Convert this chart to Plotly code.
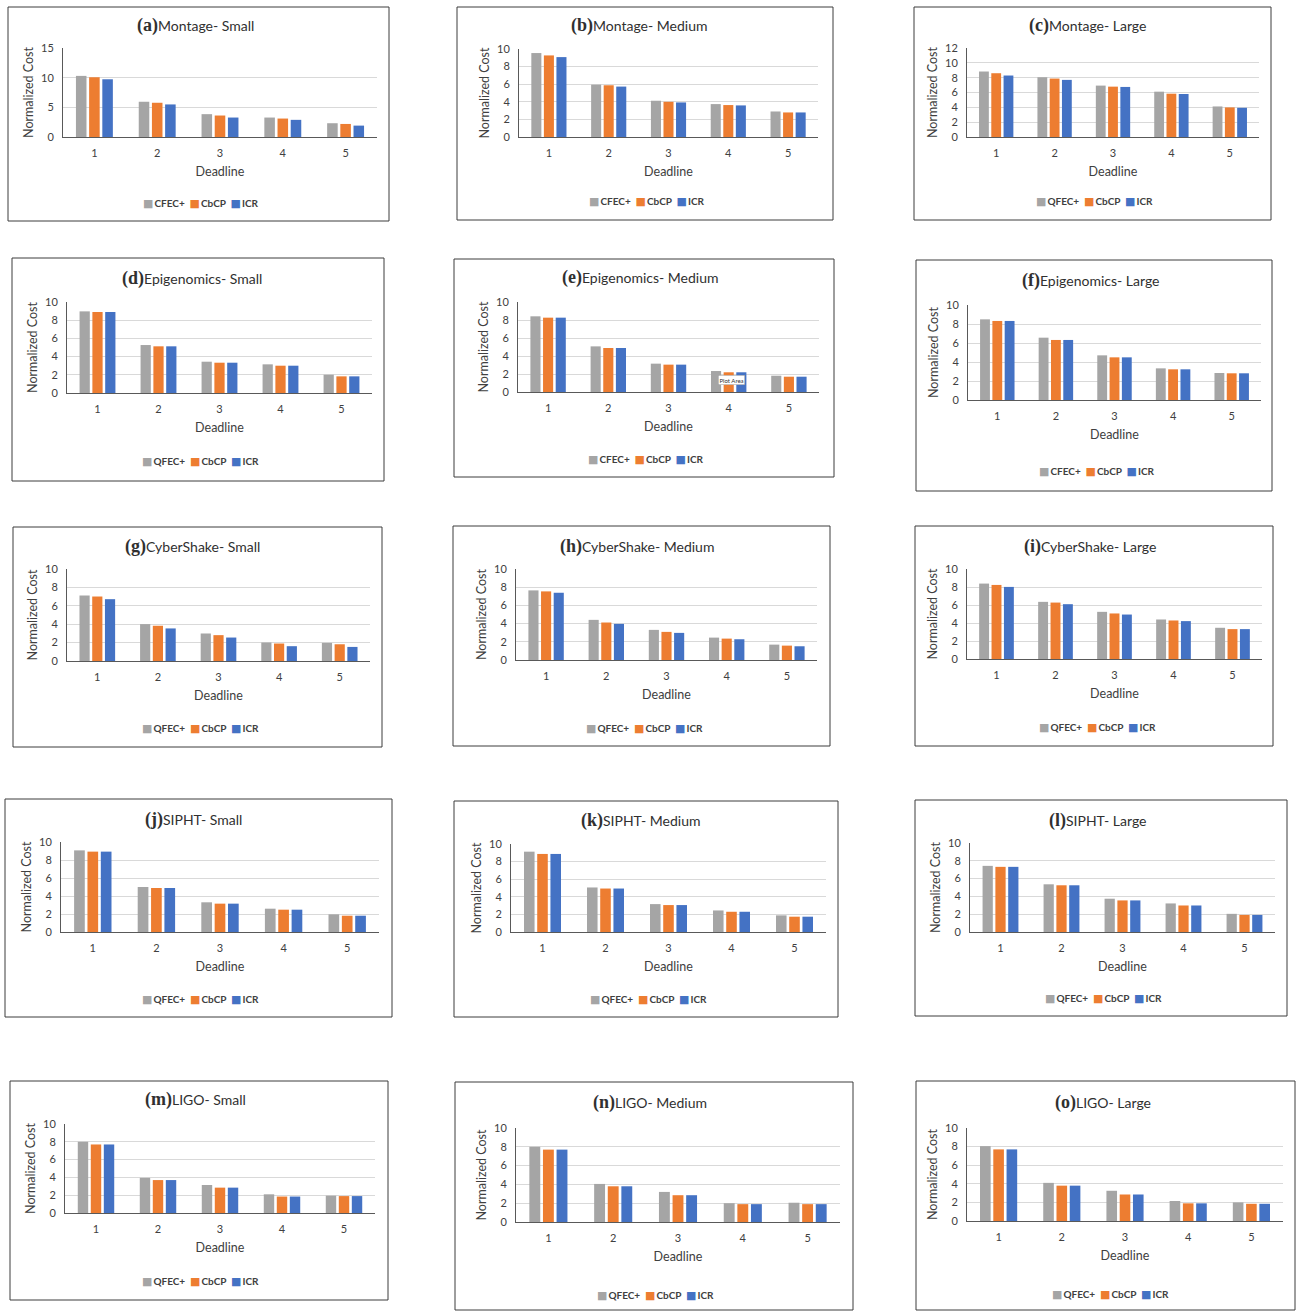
import plotly.graph_objects as go

W, H = 1296, 1311

deadlines = ["1", "2", "3", "4", "5"]
series_colors = ["#a5a5a5", "#ed7d31", "#4472c4"]

panel_letters = ["a", "b", "c", "d", "e", "f", "g", "h", "i", "j", "k", "l", "m", "n", "o"]
panel_titles = ["Montage- Small", "Montage- Medium", "Montage- Large",
                "Epigenomics- Small", "Epigenomics- Medium", "Epigenomics- Large",
                "CyberShake- Small", "CyberShake- Medium", "CyberShake- Large",
                "SIPHT- Small", "SIPHT- Medium", "SIPHT- Large",
                "LIGO- Small", "LIGO- Medium", "LIGO- Large"]
first_series_names = ["CFEC+", "CFEC+", "QFEC+", "QFEC+", "CFEC+", "CFEC+",
                      "QFEC+", "QFEC+", "QFEC+", "QFEC+", "QFEC+", "QFEC+",
                      "QFEC+", "QFEC+", "QFEC+"]
other_series_names = ["CbCP", "ICR"]
y_max = [15, 10, 12, 10, 10, 10, 10, 10, 10, 10, 10, 10, 10, 10, 10]
y_step = [5, 2, 2, 2, 2, 2, 2, 2, 2, 2, 2, 2, 2, 2, 2]

# values per panel: [first series, CbCP, ICR] for deadlines 1..5
montage_small = [[10.3, 5.94, 3.85, 3.28, 2.32], [10.07, 5.77, 3.62, 3.11, 2.2], [9.73, 5.49, 3.28, 2.89, 1.92]]
montage_medium = [[9.54, 5.95, 4.12, 3.74, 2.9], [9.27, 5.88, 4.0, 3.63, 2.79], [9.08, 5.73, 3.93, 3.59, 2.79]]
montage_large = [[8.83, 8.06, 6.93, 6.11, 4.12], [8.6, 7.88, 6.79, 5.84, 3.99], [8.29, 7.7, 6.75, 5.8, 3.94]]
epigenomics_small = [[8.97, 5.27, 3.44, 3.15, 2.01], [8.9, 5.13, 3.33, 3.0, 1.83], [8.9, 5.13, 3.33, 3.0, 1.83]]
epigenomics_medium = [[8.41, 5.07, 3.15, 2.33, 1.81], [8.26, 4.89, 3.04, 2.19, 1.7], [8.26, 4.89, 3.04, 2.19, 1.7]]
epigenomics_large = [[8.49, 6.56, 4.7, 3.33, 2.84], [8.32, 6.32, 4.49, 3.23, 2.81], [8.32, 6.32, 4.49, 3.23, 2.81]]
cybershake_small = [[7.12, 4.01, 2.99, 2.01, 1.97], [7.01, 3.83, 2.81, 1.9, 1.82], [6.72, 3.54, 2.55, 1.61, 1.53]]
cybershake_medium = [[7.65, 4.41, 3.31, 2.46, 1.69], [7.54, 4.12, 3.09, 2.35, 1.58], [7.39, 3.97, 2.98, 2.28, 1.51]]
cybershake_large = [[8.38, 6.35, 5.24, 4.39, 3.47], [8.23, 6.27, 5.06, 4.28, 3.32], [8.01, 6.09, 4.94, 4.21, 3.32]]
sipht_small = [[9.07, 5.0, 3.3, 2.59, 1.96], [8.93, 4.89, 3.15, 2.48, 1.81], [8.93, 4.89, 3.15, 2.48, 1.81]]
sipht_medium = [[9.13, 5.06, 3.17, 2.45, 1.89], [8.87, 4.94, 3.06, 2.3, 1.74], [8.87, 4.94, 3.06, 2.3, 1.74]]
sipht_large = [[7.43, 5.36, 3.74, 3.21, 2.04], [7.32, 5.25, 3.55, 2.98, 1.92], [7.32, 5.25, 3.55, 2.98, 1.92]]
ligo_small = [[8.0, 3.95, 3.15, 2.1, 1.95], [7.7, 3.7, 2.85, 1.85, 1.9], [7.7, 3.7, 2.85, 1.85, 1.9]]
ligo_medium = [[8.0, 4.05, 3.2, 2.0, 2.05], [7.7, 3.8, 2.85, 1.9, 1.9], [7.7, 3.8, 2.85, 1.9, 1.9]]
ligo_large = [[8.05, 4.1, 3.25, 2.15, 2.0], [7.7, 3.8, 2.85, 1.9, 1.85], [7.7, 3.8, 2.85, 1.9, 1.85]]

panel_values = [montage_small, montage_medium, montage_large,
                epigenomics_small, epigenomics_medium, epigenomics_large,
                cybershake_small, cybershake_medium, cybershake_large,
                sipht_small, sipht_medium, sipht_large,
                ligo_small, ligo_medium, ligo_large]

# ---- layout geometry (pixels in the 1296x1311 page) ----
boxes = [(8, 7, 389, 221), (457, 7, 833, 220), (914, 7, 1271, 220),
         (12, 258, 384, 481), (454, 259, 834, 477), (916, 260, 1272, 491),
         (13, 527, 382, 747), (453, 526, 830, 746), (915, 526, 1273, 746),
         (5, 799, 392, 1017), (454, 801, 838, 1017), (915, 800, 1287, 1016),
         (10, 1081, 388, 1300), (455, 1082, 853, 1310), (916, 1081, 1295, 1310)]
plots = [(63, 48, 377, 137), (519, 49, 818, 137), (967, 48, 1259, 137),
         (67, 302, 372, 393), (518, 302, 819, 392), (968, 305, 1261, 400),
         (67, 569, 370, 661), (516, 569, 817, 660), (967, 569, 1262, 659),
         (61, 842, 379, 932), (511, 844, 826, 932), (970, 843, 1275, 932),
         (65, 1124, 375, 1213), (516, 1128, 840, 1222), (967, 1128, 1283, 1221)]
title_pos = [(195, 25), (639, 25), (1087, 25), (192, 278), (640, 277), (1090, 281),
             (192, 546), (637, 546), (1090, 546), (193, 819), (641, 820), (1097, 820),
             (195, 1099), (650, 1102), (1103, 1102)]
legend_pos = [(201, 203), (647, 202), (1094, 202), (200, 462), (646, 459), (1097, 472),
              (200, 728), (644, 728), (1097, 727), (200, 999), (648, 999), (1103, 998),
              (200, 1281), (655, 1295), (1110, 1294)]

FONT = "Lato, 'Open Sans', Arial, sans-serif"
TXT = "#404040"

fig = go.Figure()
layout = dict(width=W, height=H, margin=dict(l=0, r=0, t=0, b=0, autoexpand=False),
              paper_bgcolor="white", plot_bgcolor="white",
              font=dict(family=FONT, color=TXT),
              bargap=0.37, bargroupgap=0.2, barmode="group",
              showlegend=False, shapes=[], annotations=[])

for i in range(15):
    sfx = "" if i == 0 else str(i + 1)
    xref, yref = "x" + sfx, "y" + sfx
    names = [first_series_names[i]] + other_series_names
    for s in range(3):
        fig.add_trace(go.Bar(x=deadlines, y=panel_values[i][s], name=names[s],
                             marker=dict(color=series_colors[s], line=dict(width=0)),
                             xaxis=xref, yaxis=yref))
    px0, pyt, px1, pyb = plots[i]
    layout["xaxis" + sfx] = dict(
        domain=[px0 / W, px1 / W], anchor=yref, type="category", automargin=False,
        showline=True, linecolor="#595959", linewidth=1, ticks="",
        showgrid=False, zeroline=False, fixedrange=True,
        tickfont=dict(size=11, color=TXT), ticklabelstandoff=6,
        title=dict(text="Deadline", font=dict(size=12.5, color=TXT), standoff=9))
    layout["yaxis" + sfx] = dict(
        domain=[1 - pyb / H, 1 - pyt / H], anchor=xref, automargin=False,
        range=[0, y_max[i]], dtick=y_step[i], tick0=0, fixedrange=True,
        showline=True, linecolor="#595959", linewidth=1, ticks="",
        showgrid=True, gridcolor="#d9d9d9", gridwidth=1, zeroline=False,
        tickfont=dict(size=11, color=TXT), ticklabelstandoff=6,
        title=dict(text="Normalized Cost", font=dict(size=12.5, color=TXT), standoff=4))
    # compact legend row (colour square + series name)
    lx, ly = legend_pos[i]
    legend_text = "&nbsp;&nbsp;".join(
        "<span style='color:" + series_colors[s] + ";font-family:\"DejaVu Sans\";font-size:11px'>■</span>"
        + "<span style='font-size:4px'>&nbsp;</span>" + names[s] for s in range(3))
    layout["annotations"].append(dict(
        xref="paper", yref="paper", x=lx / W, y=1 - ly / H, xanchor="center", yanchor="middle",
        showarrow=False, text=legend_text,
        font=dict(size=10, color=TXT, family=FONT, weight="bold")))
    bx0, by0, bx1, by1 = boxes[i]
    layout["shapes"].append(dict(type="rect", xref="paper", yref="paper",
                                 x0=bx0 / W, x1=bx1 / W, y0=1 - by1 / H, y1=1 - by0 / H,
                                 line=dict(color="#3c3c3c", width=1), fillcolor="rgba(0,0,0,0)",
                                 layer="below"))
    tx, ty = title_pos[i]
    layout["annotations"].append(dict(
        xref="paper", yref="paper", x=tx / W, y=1 - ty / H, xanchor="center", yanchor="middle",
        showarrow=False,
        text=("<span style='font-family:\"Liberation Serif\", \"DejaVu Serif\", serif;"
              "font-size:18px;font-weight:bold'>(" + panel_letters[i] + ")</span>"
              + panel_titles[i]),
        font=dict(size=14, color="#303030", family=FONT)))

# tooltip remnant visible in panel (e)
layout["annotations"].append(dict(xref="paper", yref="paper", x=731 / W, y=1 - 380 / H,
                                  xanchor="center", yanchor="middle", showarrow=False,
                                  text="Plot Area", font=dict(size=6, color="#333333", family=FONT),
                                  bgcolor="white", bordercolor="#9a9a9a", borderwidth=0.5, borderpad=1))

fig.update_layout(**layout)
fig.write_html("out.html", config={"displayModeBar": False},
               post_script="document.body.style.margin='0';document.body.style.overflow='hidden';")
